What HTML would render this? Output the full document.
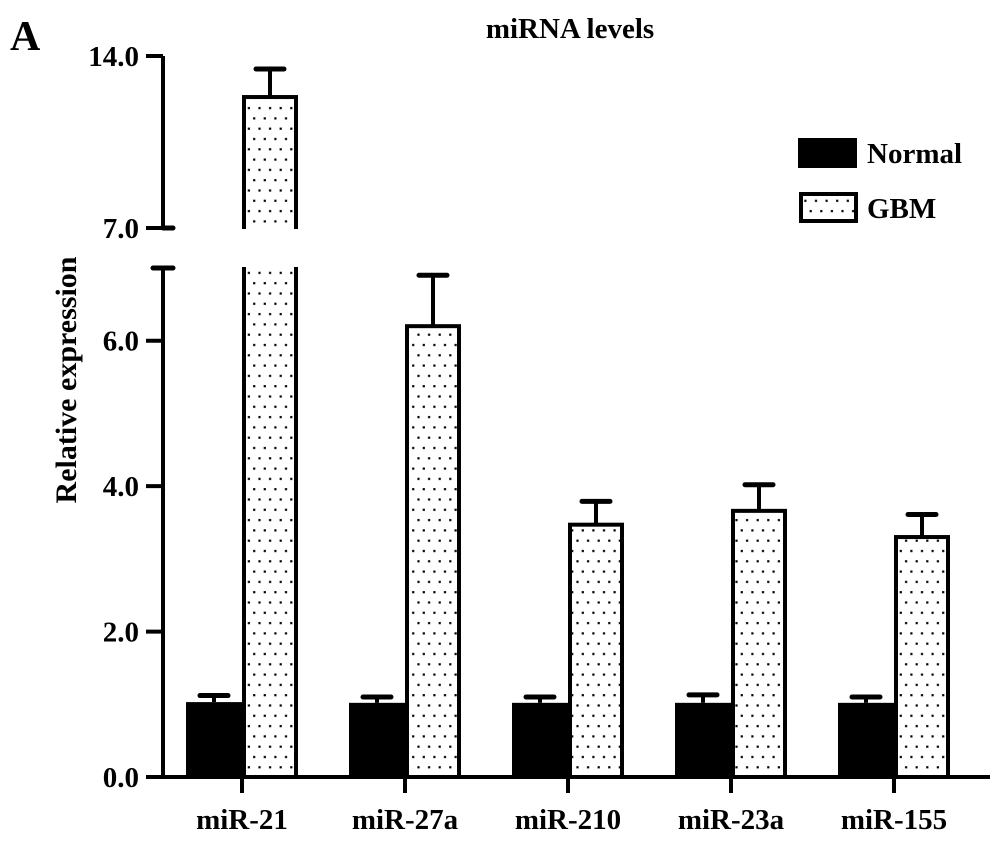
<!DOCTYPE html>
<html><head><meta charset="utf-8"><style>
body{margin:0;background:#fff}
svg text{font-family:"Liberation Serif",serif;font-weight:bold;fill:#000}
</style></head><body>
<svg id="chart" width="996" height="841" viewBox="0 0 996 841">
<defs>
<pattern id="dots" width="10.6" height="20.6" patternUnits="userSpaceOnUse">
<rect x="4" y="4" width="2.2" height="2.2" fill="#000"/>
<rect x="-1.3" y="14.3" width="2.2" height="2.2" fill="#000"/>
<rect x="9.3" y="14.3" width="2.2" height="2.2" fill="#000"/>
</pattern>
</defs>
<text x="10" y="50" style="font-size:42px">A</text>
<text x="570" y="38" style="font-size:29px" text-anchor="middle">miRNA levels</text>
<text transform="translate(76,380) rotate(-90)" style="font-size:30px" text-anchor="middle">Relative expression</text>
<g id="bars"></g>
<g id="axes"></g>
<g>
<rect x="798" y="138" width="59" height="30" fill="#000"/>
<text x="867" y="163" style="font-size:29px">Normal</text>
<rect x="801" y="194" width="55" height="27" fill="url(#dots)" stroke="#000" stroke-width="4"/>
<text x="867" y="218" style="font-size:29px">GBM</text>
</g>
</svg>
<script>
const categories = ["miR-21","miR-27a","miR-210","miR-23a","miR-155"];
const normalValues = [1.03,1.02,1.02,1.02,1.02];
const normalErrors = [0.09,0.08,0.08,0.11,0.08];
const gbmValues = [12.33,6.2,3.47,3.66,3.30];
const gbmErrors = [1.14,0.7,0.32,0.36,0.31];
const lowerTicks = [0,2,4,6];
const upperTicks = [7,14];
const lowerTickLabels = ["0.0","2.0","4.0","6.0"];
const upperTickLabels = ["7.0","14.0"];

const NS="http://www.w3.org/2000/svg";
const X0=163, Y0=777, LOW_TOP=268, UP_BOT=228, UP_TOP=56, BREAK=7;
const lowScale=(Y0-LOW_TOP)/BREAK, upScale=(UP_BOT-UP_TOP)/7;
function yScale(v){return v<=BREAK ? Y0-v*lowScale : UP_BOT-(v-BREAK)*upScale;}
function yUpper(v){return UP_BOT-(v-BREAK)*upScale;}
const groupW=163, first=242, barW=56;
function xCenter(i){return first+i*groupW;}
function mk(tag,attrs,parent){const e=document.createElementNS(NS,tag);for(const k in attrs)e.setAttribute(k,attrs[k]);parent.appendChild(e);return e;}
const bars=document.getElementById('bars'), axes=document.getElementById('axes');

function errBar(cx,v,err,name){
  const g=mk('g',{},bars);
  
  
  const top=yScale(v+err), y=yScale(v);
  mk('line',{x1:cx,x2:cx,y1:y,y2:top,stroke:'#000','stroke-width':4},g);
  mk('line',{x1:cx-14,x2:cx+14,y1:top,y2:top,stroke:'#000','stroke-width':5,'stroke-linecap':'round'},g);
}
categories.forEach((c,i)=>{
  const cx=xCenter(i);
  const ny=yScale(normalValues[i]);
  errBar(cx-barW/2,normalValues[i],normalErrors[i],'error-bar-normal-'+c);
  const nr=mk('rect',{x:cx-barW,y:ny,width:barW,height:Y0-ny,fill:'#000'},bars);
  
  
  const gy=yScale(gbmValues[i]);
  errBar(cx+barW/2,gbmValues[i],gbmErrors[i],'error-bar-gbm-'+c);
  const gr=mk('rect',{x:cx+2,y:gy,width:barW-4,height:Y0-gy,fill:'url(#dots)',stroke:'#000','stroke-width':4},bars);
  
  
  if(gbmValues[i]>BREAK){
    const gap=mk('rect',{x:cx-5,y:UP_BOT+1,width:barW+10,height:LOW_TOP-UP_BOT-2,fill:'#fff'},bars);
    
    
  }
  const lbl=mk('text',{x:cx,y:829,style:'font-size:29px','text-anchor':'middle'},axes);
  lbl.textContent=c;
  
  
  const tk=mk('line',{x1:cx,x2:cx,y1:Y0,y2:793,stroke:'#000','stroke-width':4},axes);
  
  
});
const xl=mk('line',{x1:X0-2,x2:990,y1:Y0,y2:Y0,stroke:'#000','stroke-width':4},axes);


const yl1=mk('line',{x1:X0,x2:X0,y1:Y0,y2:LOW_TOP,stroke:'#000','stroke-width':4},axes);


const cap1=mk('line',{x1:X0-10,x2:X0+10,y1:LOW_TOP,y2:LOW_TOP,stroke:'#000','stroke-width':5,'stroke-linecap':'round'},axes);


const yl2=mk('line',{x1:X0,x2:X0,y1:UP_BOT,y2:UP_TOP,stroke:'#000','stroke-width':4},axes);


const cap2=mk('line',{x1:X0,x2:X0+10,y1:UP_BOT,y2:UP_BOT,stroke:'#000','stroke-width':5,'stroke-linecap':'round'},axes);


function tick(y,label){
  const t=mk('line',{x1:X0-17,x2:X0,y1:y,y2:y,stroke:'#000','stroke-width':4},axes);
  
  
  const tl=mk('text',{x:X0-24,y:y+10,style:'font-size:29px','text-anchor':'end'},axes);
  tl.textContent=label;
  
  
}
lowerTicks.forEach((v,k)=>tick(Y0-v*lowScale,lowerTickLabels[k]));
upperTicks.forEach((v,k)=>tick(yUpper(v),upperTickLabels[k]));
</script>
</body></html>
